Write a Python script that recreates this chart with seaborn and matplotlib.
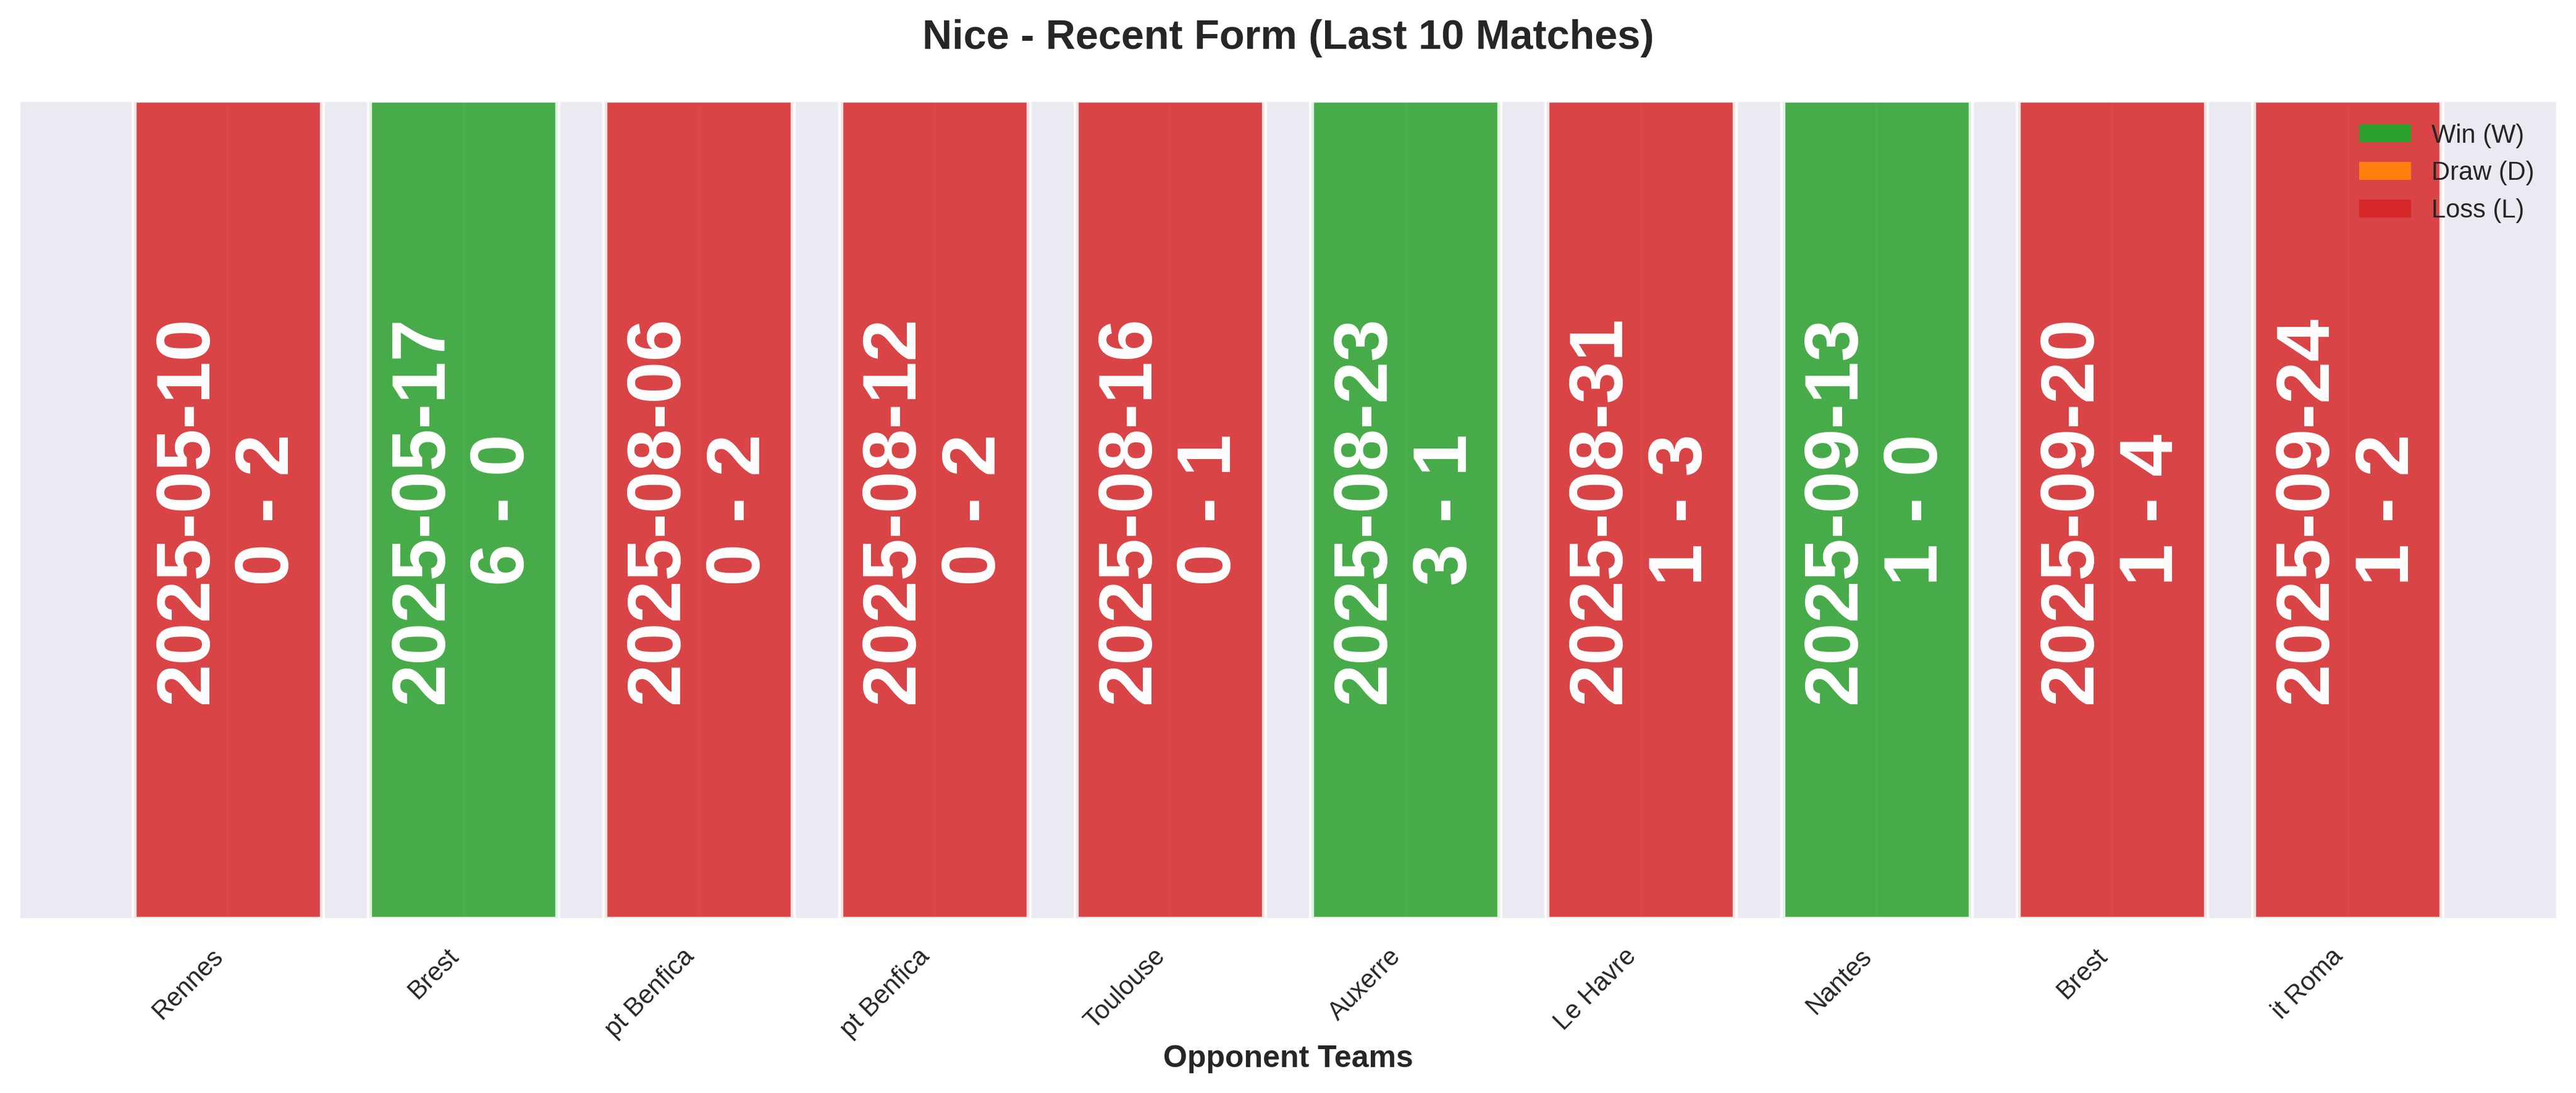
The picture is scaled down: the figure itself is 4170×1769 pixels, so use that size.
import matplotlib
matplotlib.use("Agg")
import matplotlib.pyplot as plt
import seaborn as sns
import pandas as pd
from matplotlib.patches import Patch

# Last 10 matches for Nice
opponents = ['Rennes', 'Brest', 'pt Benfica', 'pt Benfica', 'Toulouse',
             'Auxerre', 'Le Havre', 'Nantes', 'Brest', 'it Roma']
dates = ['2025-05-10', '2025-05-17', '2025-08-06', '2025-08-12', '2025-08-16',
         '2025-08-23', '2025-08-31', '2025-09-13', '2025-09-20', '2025-09-24']
scores = ['0 - 2', '6 - 0', '0 - 2', '0 - 2', '0 - 1',
          '3 - 1', '1 - 3', '1 - 0', '1 - 4', '1 - 2']
results = ['L', 'W', 'L', 'L', 'L', 'W', 'L', 'W', 'L', 'L']

result_colors = {'W': '#2ca02c', 'D': '#ff7f0e', 'L': '#d62728'}
result_names = {'W': 'Win (W)', 'D': 'Draw (D)', 'L': 'Loss (L)'}

sns.set_theme(style='darkgrid')
plt.rcParams['font.family'] = ['Liberation Sans', 'DejaVu Sans']

df = pd.DataFrame({
    'match': [str(i) for i in range(len(opponents))],
    'height': [1] * len(opponents),
    'result': results,
})

fig = plt.figure(figsize=(13.9, 5.897), dpi=300)
ax = fig.add_axes([0.0072, 0.1588, 0.9856, 0.7496])

sns.barplot(data=df, x='match', y='height', hue='result', palette=result_colors,
            order=df['match'].tolist(), dodge=False, saturation=1, width=0.8,
            alpha=0.85, edgecolor='white', linewidth=2, errorbar=None,
            legend=False, ax=ax)

# labels inside each bar
for i, (d, s) in enumerate(zip(dates, scores)):
    ax.text(i, 0.5, f'{d}\n{s}', rotation=90, ha='center', va='center',
            color='white', fontsize=29.5, fontweight='bold')

n = len(opponents)
pad = 0.05 * (n - 1 + 0.8)
ax.set_xlim(-0.4 - pad, n - 1 + 0.4 + pad)
ax.set_ylim(0, 1)
ax.xaxis.grid(True)
ax.set_yticks([])
ax.set_ylabel('')
ax.set_xticks(range(n))
ax.set_xticklabels(opponents, rotation=45, ha='right', fontsize=10)
ax.set_xlabel('Opponent Teams', fontsize=12, fontweight='bold', labelpad=1)
ax.set_title('Nice - Recent Form (Last 10 Matches)', fontsize=16,
             fontweight='bold', pad=20)

handles = [Patch(facecolor=result_colors[k], edgecolor='none', label=result_names[k])
           for k in ['W', 'D', 'L']]
ax.legend(handles=handles, loc='upper right', frameon=False, fontsize=10)

fig.savefig('out.png', dpi=300)
plt.close(fig)
